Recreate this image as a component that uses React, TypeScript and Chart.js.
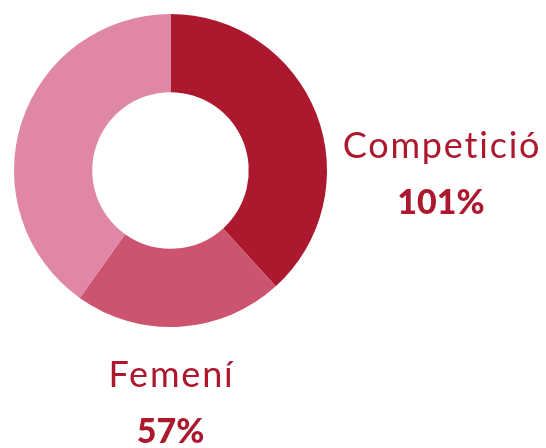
import React, { useEffect, useRef } from "react";
import { Chart, registerables } from "chart.js";

Chart.register(...registerables);

const categories = ["Competició", "Femení", "Masculí"];
const values = [101, 57, 106];
const valueLabels = ["101%", "57%", ""];
const colors = ["#AC182D", "#CC546E", "#E087A7"];
const shownLabels = [0, 1];

const labelPlugin = {
  id: "sideLabels",
  afterDraw(chart: any) {
    const ctx = chart.ctx;
    const meta = chart.getDatasetMeta(0);
    const arc = meta.data[0];
    if (!arc) return;
    const cx = arc.x;
    const cy = arc.y;
    const r = arc.outerRadius;
    ctx.save();
    ctx.fillStyle = "#AC182D";
    ctx.textAlign = "center";
    ctx.textBaseline = "alphabetic";
    shownLabels.forEach((i) => {
      let x: number, y: number;
      if (i === 0) {
        x = cx + r + 114;
        y = cy - 13;
      } else {
        x = cx;
        y = cy + r + 60;
      }
      ctx.font = "400 36px Lato";
      (ctx as any).letterSpacing = "1.8px";
      ctx.fillText(categories[i], x + 1, y);
      ctx.font = "900 34px Lato";
      (ctx as any).letterSpacing = "0px";
      ctx.fillText(valueLabels[i], x, y + 56);
    });
    ctx.restore();
  },
};

export default function App() {
  const ref = useRef<HTMLCanvasElement>(null);
  useEffect(() => {
    if (!ref.current) return;
    const chart = new Chart(ref.current, {
      type: "doughnut",
      data: {
        labels: categories,
        datasets: [
          {
            data: values,
            backgroundColor: colors,
            borderWidth: 0,
          },
        ],
      },
      options: {
        animation: false,
        responsive: false,
        cutout: "50%",
        layout: { padding: { left: 14, top: 14, right: 219, bottom: 121 } },
        plugins: { legend: { display: false }, tooltip: { enabled: false } },
      },
      plugins: [labelPlugin],
    });
    return () => chart.destroy();
  }, []);
  return (
    <div style={{ position: "absolute", left: 0, top: 0, width: 546, height: 448, background: "#fff" }}>
      <canvas ref={ref} width={546} height={448} style={{ width: 546, height: 448 }} />
    </div>
  );
}
